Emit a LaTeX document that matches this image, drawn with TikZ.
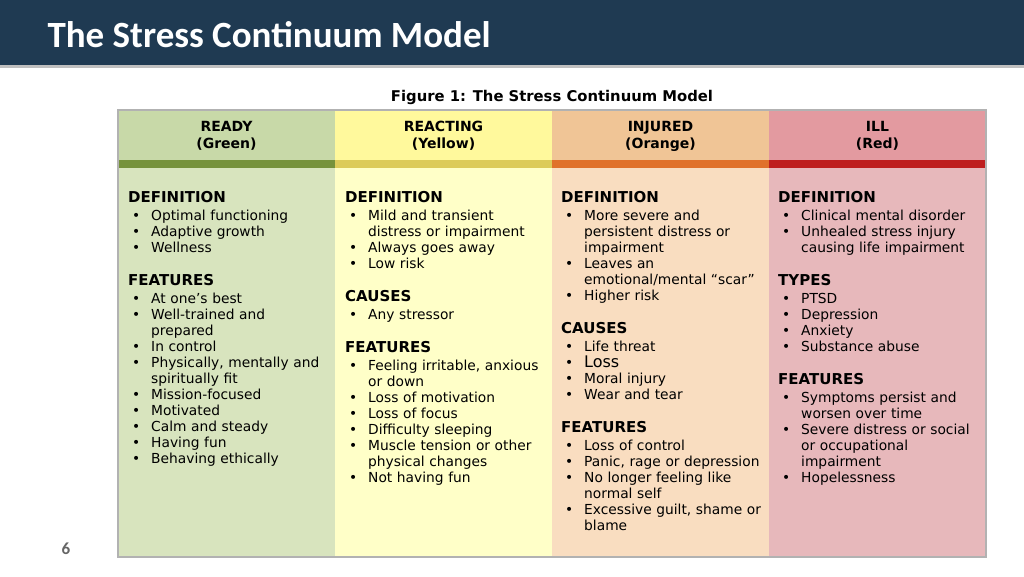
\documentclass[tikz,border=0pt]{standalone}
\usepackage{fontspec}
\setmainfont{DejaVu Sans}
\newfontfamily\titlefont{Carlito}
\usetikzlibrary{positioning}
\definecolor{navy}{HTML}{1F3A52}
\definecolor{grnH}{HTML}{C8D9A8}\definecolor{grnB}{HTML}{D8E4BE}\definecolor{grnL}{HTML}{76923C}
\definecolor{ylwH}{HTML}{FFF99C}\definecolor{ylwB}{HTML}{FFFFC8}\definecolor{ylwL}{HTML}{DCCB5A}
\definecolor{orgH}{HTML}{F0C596}\definecolor{orgB}{HTML}{F9DDC0}\definecolor{orgL}{HTML}{E0712A}
\definecolor{redH}{HTML}{E39AA0}\definecolor{redB}{HTML}{E7B8BB}\definecolor{redL}{HTML}{BE1E1E}
\newcommand\itm[1]{\par\noindent\hangindent=23pt\hangafter=1\makebox[23pt][l]{\hspace{4pt}\textbullet}#1}
\newcommand\hd[1]{\par\vspace{17pt}\noindent{\fontsize{15}{16}\selectfont\bfseries #1}\par\vspace{2pt}}
\newcommand\hdf[1]{\par\noindent{\fontsize{15}{16}\selectfont\bfseries #1}\par\vspace{2pt}}
\begin{document}
\begin{tikzpicture}
     [x=1pt,y=-1pt,
      % Styles
        head text/.style={font=\fontsize{14}{17}\selectfont\bfseries,align=center},
        body text/.style={anchor=north west,inner sep=0pt,text width=212pt,
          font=\fontsize{13.8}{16}\selectfont,align=left}]
    \useasboundingbox (0,0) rectangle (1024,576);
    \fill[white] (0,0) rectangle (1024,576);
    % title bar
    \fill[black!25] (0,65) rectangle (1024,68);
    \fill[navy] (0,0) rectangle (1024,65);
    \node[anchor=west,text=white,font=\titlefont\fontsize{37}{40}\selectfont\bfseries] (title) at (44,35) {The Stress Continuum Model};
    \node[font=\fontsize{14.8}{16}\selectfont\bfseries] (caption) at (552,97) {Figure 1: The Stress Continuum Model};
    \node[text=black!60,font=\titlefont\fontsize{17}{18}\selectfont\bfseries] (page) at (66,549) {6};
    % columns
    \foreach \x/\c/\n/\s in {118/grn/READY/Green,335/ylw/REACTING/Yellow,552/org/INJURED/Orange,769/red/ILL/Red}{
      \fill[\c H] (\x,110) rectangle ++(217,50);
      \fill[\c L] (\x,160) rectangle ++(217,8);
      \fill[\c B] (\x,168) rectangle ++(217,389);
      \node[head text] (h\n) at (\x+108.5,136) {\n\\(\s)};
    }
    \draw[black!30,line width=1.5pt] (118,110) rectangle (986,557);
    % column texts
    \node[body text] (ready) at (128,186) {\hdf{DEFINITION}
      \itm{Optimal functioning}\itm{Adaptive growth}\itm{Wellness}
      \hd{FEATURES}
      \itm{At one's best}\itm{Well-trained and\newline prepared}\itm{In control}
      \itm{Physically, mentally and\newline spiritually fit}\itm{Mission-focused}\itm{Motivated}
      \itm{Calm and steady}\itm{Having fun}\itm{Behaving ethically}\par};
    \node[body text] (reacting) at (345,186) {\hdf{DEFINITION}
      \itm{Mild and transient\newline distress or impairment}\itm{Always goes away}\itm{Low risk}
      \hd{CAUSES}
      \itm{Any stressor}
      \hd{FEATURES}
      \itm{Feeling irritable, anxious\newline or down}\itm{Loss of motivation}\itm{Loss of focus}
      \itm{Difficulty sleeping}\itm{Muscle tension or other\newline physical changes}\itm{Not having fun}\par};
    \node[body text] (injured) at (561,186) {\hdf{DEFINITION}
      \itm{More severe and\newline persistent distress or\newline impairment}\itm{Leaves an\newline emotional/mental ``scar''}\itm{Higher risk}
      \hd{CAUSES}
      \itm{Life threat}\itm{{\fontsize{16}{16}\selectfont Loss}}\itm{Moral injury}\itm{Wear and tear}
      \hd{FEATURES}
      \itm{Loss of control}\itm{Panic, rage or depression}\itm{No longer feeling like\newline normal self}
      \itm{Excessive guilt, shame or\newline blame}\par};
    \node[body text] (ill) at (778,186) {\hdf{DEFINITION}
      \itm{Clinical mental disorder}\itm{Unhealed stress injury\newline causing life impairment}
      \hd{TYPES}
      \itm{PTSD}\itm{Depression}\itm{Anxiety}\itm{Substance abuse}
      \hd{FEATURES}
      \itm{Symptoms persist and\newline worsen over time}\itm{Severe distress or social\newline or occupational\newline impairment}
      \itm{Hopelessness}\par};
\end{tikzpicture}
\end{document}
